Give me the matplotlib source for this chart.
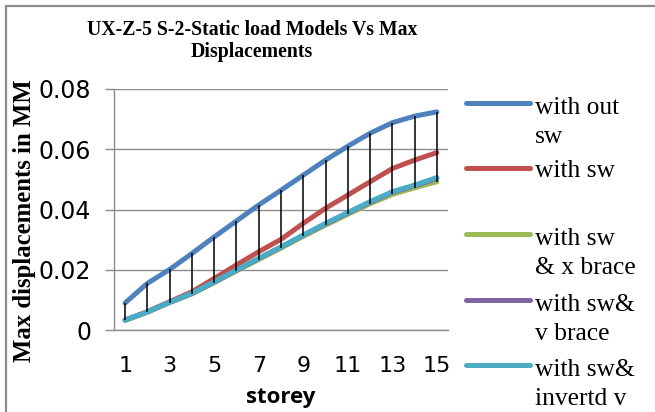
import numpy as np
import matplotlib
matplotlib.use("Agg")
import matplotlib.pyplot as plt
from matplotlib.lines import Line2D
from matplotlib.patches import Rectangle
from matplotlib.ticker import FuncFormatter

# ----------------------
# DATA (max displacement per storey, mm)
# ----------------------
storey = np.arange(1, 16)

without_sw = [0.0090, 0.0155, 0.0201, 0.0254, 0.0309, 0.0362, 0.0415, 0.0464,
              0.0514, 0.0564, 0.0610, 0.0653, 0.0688, 0.0710, 0.0724]
with_sw = [0.0033, 0.0061, 0.0094, 0.0127, 0.0171, 0.0216, 0.0260, 0.0301,
           0.0354, 0.0404, 0.0448, 0.0492, 0.0536, 0.0564, 0.0589]
with_sw_x_brace = [0.0032, 0.0059, 0.0091, 0.0120, 0.0157, 0.0196, 0.0234, 0.0272,
                   0.0311, 0.0348, 0.0384, 0.0419, 0.0450, 0.0472, 0.0492]
with_sw_v_brace = [0.0033, 0.0060, 0.0092, 0.0121, 0.0159, 0.0198, 0.0237, 0.0275,
                   0.0314, 0.0352, 0.0388, 0.0424, 0.0457, 0.0479, 0.0503]
with_sw_inv_v = [0.0033, 0.0060, 0.0092, 0.0122, 0.0160, 0.0199, 0.0238, 0.0276,
                 0.0315, 0.0354, 0.0390, 0.0426, 0.0459, 0.0481, 0.0506]

series = [without_sw, with_sw, with_sw_x_brace, with_sw_v_brace, with_sw_inv_v]
labels = ["with out\nsw", "with sw", "with sw\n& x brace", "with sw&\nv brace",
          "with sw&\ninvertd v"]
colors = ["#4F81BD", "#C0504D", "#9BBB59", "#8064A2", "#4BACC6"]

yticks = [0, 0.02, 0.04, 0.06, 0.08]
xticks = [1, 3, 5, 7, 9, 11, 13, 15]

# ----------------------
# FIGURE
# ----------------------
W, H = 655, 412
fig = plt.figure(figsize=(W / 100, H / 100), dpi=100)
ax = fig.add_axes([114 / W, 1 - 330 / H, 334 / W, 241 / H])

grid_col = "#8c8c8c"
ax.set_xlim(0.5, 15.5)
ax.set_ylim(0, 0.08)
ax.set_yticks(yticks)
ax.yaxis.set_major_formatter(FuncFormatter(lambda v, p: "0" if v == 0 else f"{v:.2f}"))
ax.set_xticks(xticks)
ax.grid(axis="y", color=grid_col, linewidth=1.0)
ax.set_axisbelow(True)

for side in ["top", "right"]:
    ax.spines[side].set_visible(False)
for side in ["left", "bottom"]:
    ax.spines[side].set_color(grid_col)
    ax.spines[side].set_linewidth(1.0)

ax.tick_params(axis="y", length=6.5, width=1.0, color=grid_col, pad=10,
               labelsize=17)
ax.tick_params(axis="x", length=0, pad=19, labelsize=16)
for lab in ax.get_xticklabels() + ax.get_yticklabels():
    lab.set_fontfamily("DejaVu Sans")

# lines
for vals, col in zip(series, colors):
    ax.plot(storey, vals, color=col, linewidth=3.6, solid_capstyle="round")

# high-low lines
data = np.array(series)
ax.vlines(storey, data.min(axis=0), data.max(axis=0), color="black",
          linewidth=1.1, zorder=5)

# axis labels
ax.set_xlabel("storey", fontfamily="Open Sans", fontweight="bold", fontsize=16,
              labelpad=8)
ax.set_ylabel("Max displacements in MM", fontfamily="Liberation Serif",
              fontweight="bold", fontsize=17.8, va="center")
ax.yaxis.set_label_coords((25 - 114) / 334, (412 - 221 - 82) / 241)

# title (baseline of the last line)
fig.text(252 / W, 1 - 57 / H, "UX-Z-5 S-2-Static load Models Vs Max\nDisplacements",
         ha="center", va="baseline", fontfamily="Liberation Serif",
         fontweight="bold", fontsize=14.2, linespacing=1.15)

# legend
line_step = 31
entry_y = [103, 168, 234, 300, 365]
for lab, col, yc in zip(labels, colors, entry_y):
    fig.add_artist(Line2D([466 / W, 530 / W], [1 - yc / H, 1 - yc / H],
                          color=col, linewidth=3.6, solid_capstyle="round"))
    n_extra = lab.count("\n")
    fig.text(535 / W, 1 - (yc + 9 + n_extra * line_step) / H, lab, ha="left",
             va="baseline", fontfamily="Liberation Serif", fontsize=18.4,
             linespacing=1.4)

# chart border
fig.add_artist(Rectangle((6 / W, -0.1), 1.2, 1 - 6 / H + 0.1,
                         transform=fig.transFigure, fill=False,
                         edgecolor="#8c8c8c", linewidth=1.6))

fig.savefig("out.png", dpi=100)
